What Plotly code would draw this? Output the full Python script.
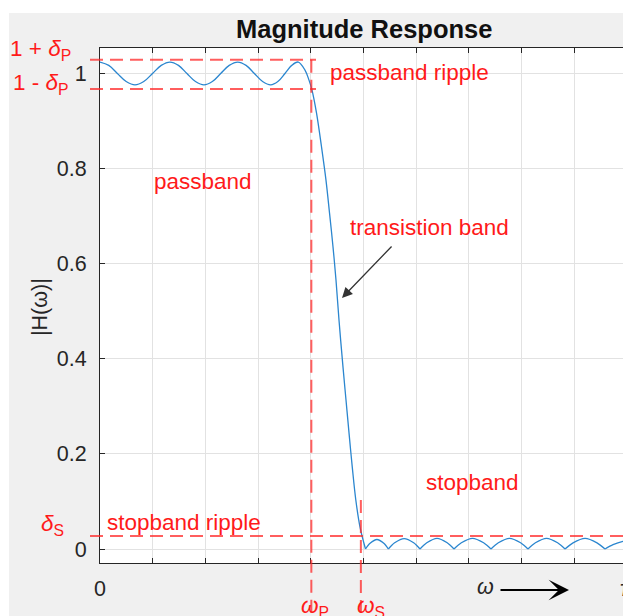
import plotly.graph_objects as go

# ---------------- data (normalised frequency w/pi, magnitude) ----------------
w_pass = [0.0, 0.0166, 0.033, 0.0497, 0.0664, 0.0830, 0.0996, 0.1162, 0.1328,
          0.1489, 0.165, 0.1812, 0.1973, 0.2132, 0.229, 0.2452, 0.2613,
          0.2772, 0.293, 0.3085, 0.3239, 0.3375, 0.351, 0.3637, 0.3763,
          0.389, 0.3966, 0.4023, 0.4108, 0.4203, 0.4288,
          0.4355, 0.4421, 0.4478, 0.4535, 0.4611, 0.4668, 0.4725, 0.4787, 0.4854,
          0.4934, 0.5038]
h_pass = [1.023, 1.016, 0.999, 0.982, 0.975, 0.982, 0.999, 1.016, 1.023,
          1.016, 0.999, 0.982, 0.975, 0.982, 0.999, 1.016, 1.023,
          1.016, 0.999, 0.982, 0.975, 0.982, 0.999, 1.016, 1.023,
          1.006, 0.985, 0.964, 0.916, 0.845, 0.775,
          0.706, 0.635, 0.565, 0.481, 0.382, 0.313, 0.244, 0.172, 0.103,
          0.046, 0.0]

# stopband ripple: arcs separated by None so the zeros stay sharp
w_stop = [0.5038, 0.5125, 0.5255, 0.5385, 0.5471, None,
          0.5471, 0.5591, 0.5772, 0.5952, 0.6072, None,
          0.6072, 0.6201, 0.6395, 0.6588, 0.6717, None,
          0.6717, 0.6857, 0.7068, 0.7279, 0.7419, None,
          0.7419, 0.7559, 0.7770, 0.7981, 0.8121, None,
          0.8121, 0.8262, 0.8473, 0.8683, 0.8824, None,
          0.8824, 0.8976, 0.9204, 0.9431, 0.9583, None,
          0.9583, 0.9735, 0.9924, 1.03]
h_stop = [0.0, 0.012, 0.020, 0.012, 0.0, None,
          0.0, 0.013, 0.022, 0.013, 0.0, None,
          0.0, 0.013, 0.0225, 0.013, 0.0, None,
          0.0, 0.013, 0.0225, 0.013, 0.0, None,
          0.0, 0.013, 0.0225, 0.013, 0.0, None,
          0.0, 0.013, 0.0225, 0.013, 0.0, None,
          0.0, 0.013, 0.0225, 0.013, 0.0, None,
          0.0, 0.009, 0.016, 0.0225]

delta_p_hi = 1.028     # 1 + delta_P
delta_p_lo = 0.9665    # 1 - delta_P
delta_s = 0.0273       # delta_S
w_p = 0.401
w_s = 0.495

y_ticks = [0, 0.2, 0.4, 0.6, 0.8, 1]
y_labels = ["0", "0.2", "0.4", "0.6", "0.8", "1"]
x_ticks = [0, 0.1, 0.2, 0.3, 0.4, 0.5, 0.6, 0.7, 0.8, 0.9, 1.0]

# ---------------- layout geometry ----------------
W, H = 623, 616
L, T, B = 100, 48, 53
PW = W - L
PH = H - T - B
YMIN, YMAX = -14 / 476, 1 + 25 / 476
XMAX = PW / 527


def xp(px):
    return (px - L) / PW


def yp(py):
    return (H - B - py) / PH


def ydat2paper(v):
    return (v - YMIN) / (YMAX - YMIN)


FONT = "Liberation Sans, Arial, sans-serif"
RED = "#ff1a1a"
DASHRED = "rgba(255,40,40,0.75)"
AX = "#262626"
BLUE = "#2b86cf"
RS = 22.5

fig = go.Figure()
fig.add_trace(go.Scatter(x=w_pass, y=h_pass, mode="lines",
                         line=dict(color=BLUE, width=1.3, shape="spline", smoothing=1.0),
                         hoverinfo="skip", showlegend=False))
fig.add_trace(go.Scatter(x=w_stop, y=h_stop, mode="lines", connectgaps=False,
                         line=dict(color=BLUE, width=1.3, shape="spline", smoothing=0.8),
                         hoverinfo="skip", showlegend=False))

dash = "13px,7px"
shapes = [
    # white border strips
    dict(type="rect", xref="paper", yref="paper", x0=xp(-5), x1=xp(W + 10), y0=yp(13), y1=yp(-5),
         fillcolor="white", line=dict(width=0), layer="below"),
    dict(type="rect", xref="paper", yref="paper", x0=xp(-5), x1=xp(9), y0=yp(H + 5), y1=yp(-5),
         fillcolor="white", line=dict(width=0), layer="below"),
    # dashed reference lines
    dict(type="line", xref="paper", yref="y", x0=xp(90), x1=xp(316), y0=delta_p_hi, y1=delta_p_hi,
         line=dict(color=DASHRED, width=2, dash=dash)),
    dict(type="line", xref="paper", yref="y", x0=xp(90), x1=xp(316), y0=delta_p_lo, y1=delta_p_lo,
         line=dict(color=DASHRED, width=2, dash=dash)),
    dict(type="line", xref="paper", yref="y", x0=xp(90), x1=1.0, y0=delta_s, y1=delta_s,
         line=dict(color=DASHRED, width=2, dash=dash)),
    dict(type="line", xref="x", yref="paper", x0=w_p, x1=w_p, y0=ydat2paper(delta_p_hi), y1=yp(H + 2),
         line=dict(color=DASHRED, width=2, dash=dash)),
    dict(type="line", xref="x", yref="paper", x0=w_s, x1=w_s, y0=ydat2paper(0.103), y1=yp(H + 2),
         line=dict(color=DASHRED, width=2, dash=dash)),
]

ann = []


def txt(text, px, py, color=RED, size=RS, xanchor="center", yanchor="middle", **kw):
    ann.append(dict(text=text, x=xp(px), y=yp(py), xref="paper", yref="paper",
                    showarrow=False, xanchor=xanchor, yanchor=yanchor,
                    font=dict(family=FONT, size=size, color=color), **kw))


txt("<b>Magnitude Response</b>", 363.5, 29, color="#111111", size=25.5)
txt("passband ripple", 409, 73)
txt("passband", 203, 181)
txt("transistion band", 429, 228)
txt("stopband", 472, 482)
txt("stopband ripple", 184, 522)
txt("1 + <i>δ</i><sub>P</sub>", 73, 50, xanchor="right")
txt("1 - <i>δ</i><sub>P</sub>", 71, 84, xanchor="right")
txt("<i>δ</i><sub>S</sub>", 66, 525, xanchor="right")
txt("<i>ω</i><sub>P</sub>", 315, 607)
txt("<i>ω</i><sub>S</sub>", 371, 607)
txt("0", 100, 589, color=AX, size=21.5)
txt("π", 627, 589, color=AX, size=21.5)
txt("<i>ω</i>", 485, 587, color=AX, size=21.5)
txt("|H(ω)|", 40, 307, color=AX, size=21.5, textangle=-90)

# arrows
ann.append(dict(text="", x=xp(342), y=yp(298), xref="paper", yref="paper",
                showarrow=True, ax=51, ay=-53, arrowcolor="#333333",
                arrowwidth=1.3, arrowhead=2, arrowsize=1.6))
ann.append(dict(text="", x=xp(569), y=yp(590), xref="paper", yref="paper",
                showarrow=True, ax=-70, ay=0, arrowcolor="black",
                arrowwidth=2, arrowhead=3, arrowsize=1.7))

fig.update_layout(
    width=W, height=H,
    margin=dict(l=L, r=0, t=T, b=B, pad=0),
    paper_bgcolor="#f0f0f0", plot_bgcolor="white",
    font=dict(family=FONT, size=21.5, color=AX),
    shapes=shapes, annotations=ann, showlegend=False,
    xaxis=dict(range=[0, XMAX], tickvals=x_ticks, showticklabels=False,
               ticks="inside", ticklen=5, tickcolor=AX,
               showline=True, linecolor=AX, linewidth=1, mirror="ticks",
               showgrid=True, gridcolor="#e2e2e2", gridwidth=1, zeroline=False,
               fixedrange=True),
    yaxis=dict(range=[YMIN, YMAX], tickvals=y_ticks, ticktext=y_labels,
               ticks="inside", ticklen=5, tickcolor=AX, ticklabelstandoff=8,
               tickfont=dict(family=FONT, size=21.5, color=AX),
               showline=True, linecolor=AX, linewidth=1, mirror=False,
               showgrid=True, gridcolor="#e2e2e2", gridwidth=1, zeroline=False,
               fixedrange=True),
)

fig.write_html("out.html", config=dict(displayModeBar=False))
